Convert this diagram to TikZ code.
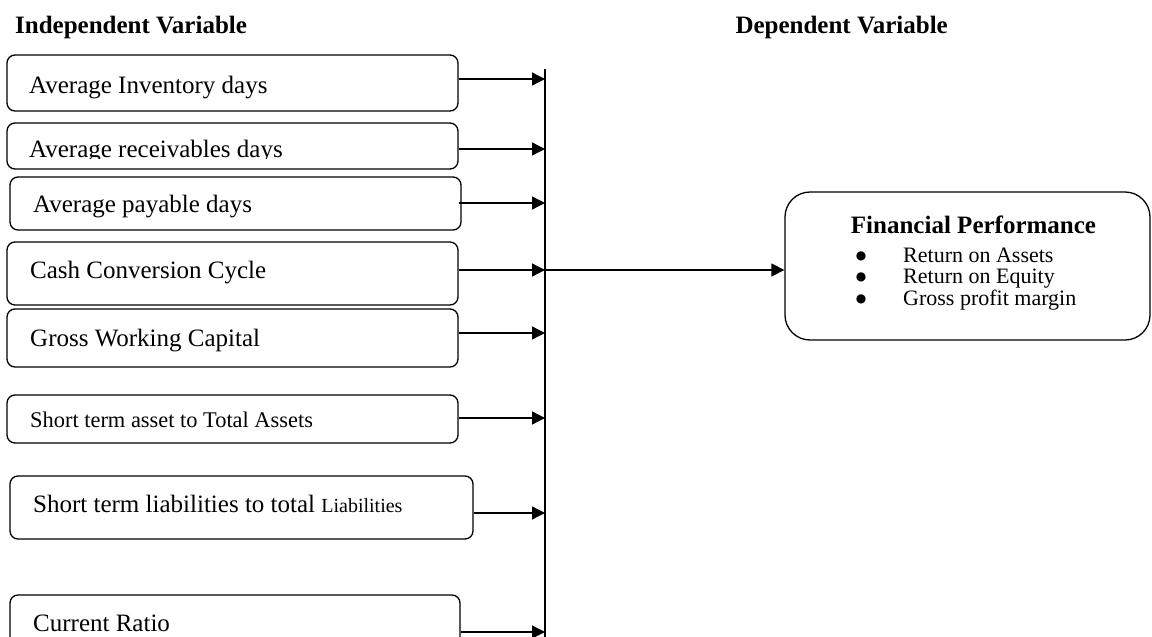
\documentclass[tikz,border=0pt]{standalone}
\usepackage{fontspec}
\setmainfont{Liberation Serif}
\newfontfamily\symfont{DejaVu Sans}
\usetikzlibrary{arrows.meta}
\begin{document}
\begin{tikzpicture}[x=1pt,y=-1pt,
  box/.style={draw, line width=1.3pt, rounded corners=8pt, inner sep=0pt},
  bigbox/.style={draw, line width=1.3pt, rounded corners=25pt, inner sep=0pt},
  lbl/.style={inner sep=0pt, anchor=base west, font=\fontsize{25}{30}\selectfont},
  smalllbl/.style={inner sep=0pt, anchor=base west, font=\fontsize{22.4}{27}\selectfont},
  head/.style={inner sep=0pt, font=\fontsize{25}{30}\selectfont\bfseries},
  item/.style={inner sep=0pt, anchor=base west, font=\fontsize{22}{26}\selectfont},
  bul/.style={inner sep=0pt, anchor=center, font=\symfont\fontsize{12}{13}\selectfont},
  conn/.style={line width=1.3pt},
  arr/.style={line width=1.3pt, -{Triangle[length=13pt,width=13pt]}}]
\clip (0,0) rectangle (1152,637);

% headers
\node[head, anchor=base west] (h1) at (15,33) {Independent Variable};
\node[head, anchor=base east] (h2) at (948,33) {Dependent Variable};

% left boxes
\node[box, minimum width=451pt, minimum height=56pt] (b1) at (232.5,83) {};
\node[box, minimum width=451pt, minimum height=46pt] (b2) at (232.5,146) {};
\node[box, minimum width=451pt, minimum height=53pt] (b3) at (235.5,203.5) {};
\node[box, minimum width=451pt, minimum height=63pt] (b4) at (232.5,273.5) {};
\node[box, minimum width=451pt, minimum height=58pt] (b5) at (232.5,338) {};
\node[box, minimum width=451pt, minimum height=48pt] (b6) at (232.5,419) {};
\node[box, minimum width=463pt, minimum height=63pt] (b7) at (241.5,507.5) {};
\node[box, minimum width=450pt, minimum height=60pt] (b8) at (235,625) {};

% texts
\node[lbl] (t1) at (29,93) {Average Inventory days};
\begin{scope}
  \clip (0,0) rectangle (1152,158.5);
  \node[lbl] (t2) at (29,157) {Average receivables days};
\end{scope}
\node[lbl] (t3) at (33,212) {Average payable days};
\node[lbl] (t4) at (30,278) {Cash Conversion Cycle};
\node[lbl] (t5) at (30,346) {Gross Working Capital};
\node[smalllbl] (t6) at (30,427) {Short term asset to Total Assets};
\node[lbl] (t7) at (33,512) {Short term liabilities to total {\fontsize{20}{24}\selectfont Liabilities}};
\node[lbl] (t8) at (33,631) {Current Ratio};

% vertical collector line
\coordinate (vtop) at (545,69);
\coordinate (vbot) at (545,640);
\draw[conn] (vtop) -- (vbot);
\coordinate (v1) at (545,79);
\coordinate (v2) at (545,149);
\coordinate (v3) at (545,203);
\coordinate (v4) at (545,270);
\coordinate (v5) at (545,333);
\coordinate (v6) at (545,418);
\coordinate (v7) at (545,513);
\coordinate (v8) at (545,632);

\draw[arr] (b1.east |- v1) -- (v1);
\draw[arr] (b2.east |- v2) -- (v2);
\draw[arr] ([xshift=-3pt]b3.east |- v3) -- (v3);
\draw[arr] (b4.east |- v4) -- (v4);
\draw[arr] (b5.east |- v5) -- (v5);
\draw[arr] (b6.east |- v6) -- (v6);
\draw[arr] (b7.east |- v7) -- (v7);
\draw[arr] (b8.east |- v8) -- (v8);

% dependent variable box
\node[bigbox, minimum width=365pt, minimum height=148pt] (fp) at (967.5,266) {};
\draw[arr] (v4) -- (fp.west |- v4);

\node[head, anchor=base] (fpt) at (973.5,233) {Financial Performance};
\node[bul] (p1) at (861,256.5) {●};
\node[bul] (p2) at (861,277.5) {●};
\node[bul] (p3) at (861,299.5) {●};
\node[item] (i1) at (903,262) {Return on Assets};
\node[item] (i2) at (903,283) {Return on Equity};
\node[item] (i3) at (903,305) {Gross profit margin};
\end{tikzpicture}
\end{document}
